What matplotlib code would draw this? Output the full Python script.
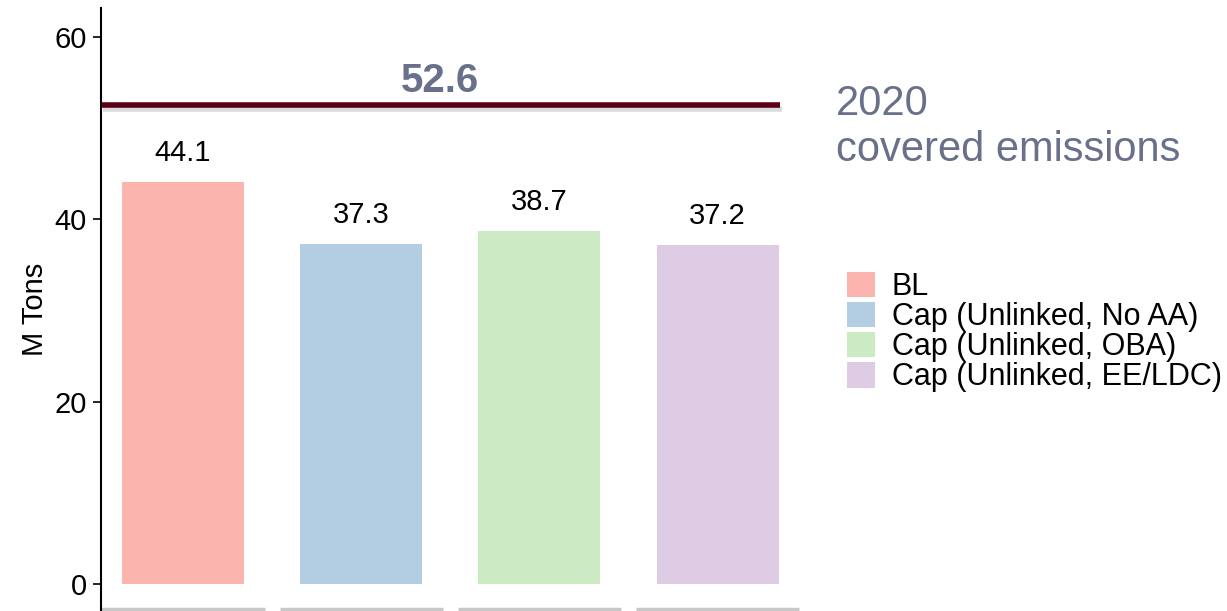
import matplotlib
matplotlib.use("Agg")
from matplotlib import pyplot as plt
from matplotlib.patches import Patch
import matplotlib.patheffects as pe

scenarios = ['BL', 'Cap (Unlinked, No AA)', 'Cap (Unlinked, OBA)', 'Cap (Unlinked, EE/LDC)']
emissions = [44.1, 37.3, 38.7, 37.2]
colors = ['#FBB4AE', '#B3CDE3', '#CCEBC5', '#DECBE4']
covered_2020 = 52.6
yticks = [0, 20, 40, 60]

plt.rcParams['font.family'] = ['Liberation Sans', 'DejaVu Sans']
slate = '#68708A'

fig = plt.figure(figsize=(12.27, 6.11), dpi=100)
ax = fig.add_axes([101 / 1227, 0.0, 704 / 1227, 603 / 611])

x = list(range(len(scenarios)))
ax.bar(x, emissions, width=0.685, color=colors, edgecolor='none')

for xi, v in zip(x, emissions):
    ax.annotate(f'{v}', xy=(xi, v), xytext=(0, 11), textcoords='offset points',
                ha='center', va='bottom', fontsize=21, color='black')

# 2020 cap line with a soft shadow
ax.plot([-0.46, 3.35], [covered_2020, covered_2020], color='#5C0016', lw=4,
        solid_capstyle='butt',
        path_effects=[pe.SimpleLineShadow(offset=(1.5, -3), shadow_color='#999999', alpha=0.35),
                      pe.Normal()])
ax.annotate(f'{covered_2020}', xy=(1.44, covered_2020), xytext=(0, 3), textcoords='offset points',
            ha='center', va='bottom', fontsize=29, fontweight='bold', color=slate)

fig.text(836 / 1227, 1 - 127 / 611, '2020\ncovered emissions', fontsize=30, color=slate,
         ha='left', va='center', linespacing=1.2)

ax.set_xlim(-0.46, 3.49)
ax.set_ylim(-2.96, 63.2)
ax.set_yticks(yticks)
ax.set_xticks([])
ax.tick_params(axis='y', labelsize=21, length=6, width=1.2, color='black', pad=4)
ax.set_ylabel('M Tons', fontsize=21, labelpad=4)

for side in ['top', 'right', 'bottom']:
    ax.spines[side].set_visible(False)
ax.spines['left'].set_linewidth(1.5)

# per-category baseline segments at the bottom
for xi in x:
    ax.plot([xi - 0.458, xi + 0.458], [0.004, 0.004], transform=ax.get_xaxis_transform(),
            color='#C8C8C8', lw=2.5, clip_on=False, solid_capstyle='butt')

handles = [Patch(facecolor=c, edgecolor='none', label=s) for c, s in zip(colors, scenarios)]
fig.legend(handles=handles, loc='center left', bbox_to_anchor=(832 / 1227, 1 - 332 / 611),
           frameon=False, fontsize=22, handlelength=0.9, handleheight=0.9,
           handletextpad=0.55, labelspacing=0.0, borderpad=0)

fig.savefig('out.png', dpi=100)
